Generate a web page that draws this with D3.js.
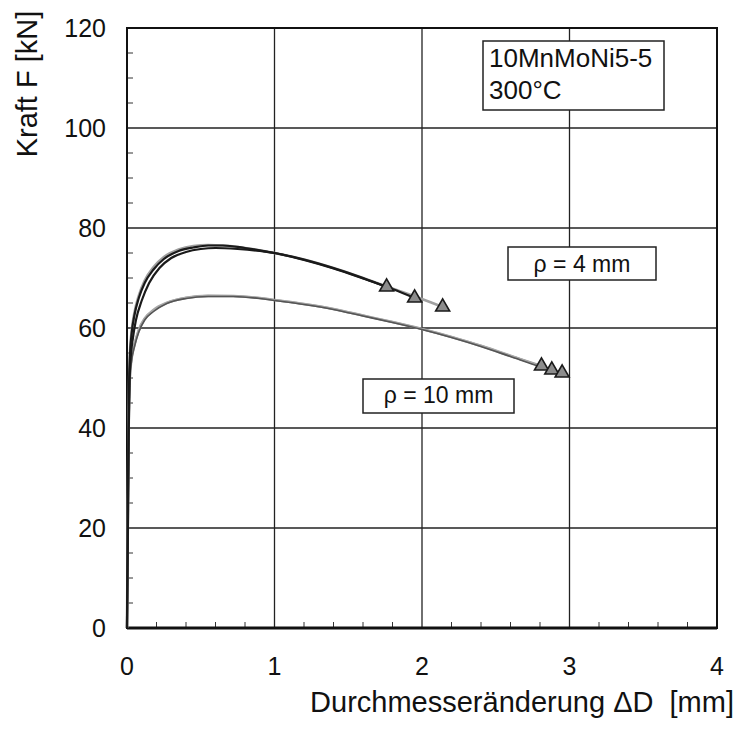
<!DOCTYPE html>
<html><head><meta charset="utf-8">
<script src="https://cdn.jsdelivr.net/npm/d3@7/dist/d3.min.js"></script>
<style>body{margin:0;background:#fff}svg{display:block;font-family:"Liberation Sans",Arial,Helvetica,sans-serif}text{white-space:pre}</style>
</head><body>
<svg id="c" width="739" height="729"></svg>
<script>
// ---- data ----
const xTicks = [0, 1, 2, 3, 4];
const yTicks = [0, 20, 40, 60, 80, 100, 120];
const xLabel = "Durchmesseränderung \u0394D  [mm]";
const yLabel = "Kraft F [kN]";
const infoLines = ["10MnMoNi5-5", "300°C"];
const label4 = "\u03C1 = 4 mm";
const label10 = "\u03C1 = 10 mm";

// rho = 4 mm curves (x = ΔD mm, y = F kN)
const r4a_x = [0, 0.005, 0.01, 0.015, 0.02, 0.03, 0.05, 0.08, 0.12, 0.18, 0.25, 0.35, 0.45, 0.55, 0.65, 0.8, 1.0, 1.2, 1.4, 1.6, 1.76];
const r4a_y = [0, 20, 40, 50, 54.5, 58.5, 62.5, 66, 69, 71.7, 73.8, 75.4, 76.1, 76.5, 76.5, 76, 75, 73.7, 72, 70, 68.2];
const r4b_x = [0, 0.006, 0.012, 0.018, 0.025, 0.04, 0.06, 0.1, 0.15, 0.22, 0.3, 0.4, 0.5, 0.6, 0.75, 1.0, 1.2, 1.4, 1.6, 1.8, 1.95];
const r4b_y = [0, 20, 40, 50, 54, 58, 61.5, 65.5, 69, 72, 74, 75.2, 75.8, 76, 75.8, 75, 73.6, 71.9, 69.9, 67.8, 66];
const r4c_x = [0, 0.005, 0.01, 0.015, 0.02, 0.03, 0.05, 0.08, 0.12, 0.18, 0.25, 0.35, 0.45, 0.55, 0.65, 0.8, 1.0, 1.2, 1.4, 1.6, 1.8, 2.0, 2.14];
const r4c_y = [0, 20, 40, 50, 55, 59, 63, 66.5, 69.5, 72.2, 74.2, 75.7, 76.4, 76.6, 76.5, 76, 75, 73.7, 72, 70, 67.9, 65.8, 64.2];
// rho = 10 mm curves
const r10a_x = [0, 0.006, 0.012, 0.02, 0.03, 0.05, 0.08, 0.12, 0.18, 0.27, 0.4, 0.55, 0.72, 0.9, 1.0, 1.2, 1.4, 1.6, 1.8, 2.0, 2.2, 2.4, 2.6, 2.81];
const r10a_y = [0, 20, 40, 50, 53.5, 56.5, 59.5, 61.8, 63.5, 65, 66, 66.4, 66.4, 66, 65.6, 64.8, 63.8, 62.5, 61.2, 59.8, 58.2, 56.4, 54.4, 52.4];
const r10b_x = [0, 0.006, 0.012, 0.02, 0.03, 0.05, 0.08, 0.12, 0.18, 0.27, 0.4, 0.55, 0.72, 0.9, 1.0, 1.2, 1.4, 1.6, 1.8, 2.0, 2.2, 2.4, 2.6, 2.8, 2.88];
const r10b_y = [0, 20, 40, 50, 53.8, 56.8, 59.8, 62, 63.7, 65.1, 66.1, 66.5, 66.4, 66, 65.6, 64.8, 63.8, 62.5, 61.2, 59.8, 58.2, 56.5, 54.5, 52.4, 51.6];
const r10c_x = [0, 0.006, 0.012, 0.02, 0.03, 0.05, 0.08, 0.12, 0.18, 0.27, 0.4, 0.55, 0.72, 0.9, 1.0, 1.2, 1.4, 1.6, 1.8, 2.0, 2.2, 2.4, 2.6, 2.8, 2.95];
const r10c_y = [0, 20, 40, 50, 53.2, 56.2, 59.2, 61.6, 63.3, 64.9, 65.9, 66.3, 66.3, 65.9, 65.5, 64.7, 63.7, 62.4, 61.1, 59.7, 58.1, 56.3, 54.3, 52.3, 51.0];
// failure points (triangles)
const fail_x = [1.76, 1.95, 2.14, 2.81, 2.88, 2.95];
const fail_y = [68.2, 66, 64.2, 52.4, 51.6, 51.0];

// ---- layout ----
const svg = d3.select("#c");
const L = 127, R = 717, T = 28, B = 628;
const x = d3.scaleLinear().domain([0, 4]).range([L, R]);
const y = d3.scaleLinear().domain([0, 120]).range([B, T]);

// grid
svg.append("g").selectAll("line").data(xTicks.slice(1, -1)).join("line")
  .attr("x1", d => x(d)).attr("x2", d => x(d)).attr("y1", T).attr("y2", B)
  .attr("stroke", "#222").attr("stroke-width", 1.3);
svg.append("g").selectAll("line").data(yTicks.slice(1, -1)).join("line")
  .attr("x1", L).attr("x2", R).attr("y1", d => y(d)).attr("y2", d => y(d))
  .attr("stroke", "#222").attr("stroke-width", 1.3);

// minor ticks (inward)
const xMinor = d3.range(0, 4.0001, 0.2).filter(v => Math.abs(v - Math.round(v)) > 1e-6);
const yMinor = d3.range(0, 120.0001, 5).filter(v => v % 20 !== 0);
svg.append("g").selectAll("line").data(xMinor).join("line")
  .attr("x1", d => x(d)).attr("x2", d => x(d)).attr("y1", B).attr("y2", B - 6)
  .attr("stroke", "#333").attr("stroke-width", 1);
svg.append("g").selectAll("line").data(yMinor).join("line")
  .attr("x1", L).attr("x2", L + 6).attr("y1", d => y(d)).attr("y2", d => y(d))
  .attr("stroke", "#333").attr("stroke-width", 1);

// frame
svg.append("rect").attr("x", L).attr("y", T).attr("width", R - L).attr("height", B - T)
  .attr("fill", "none").attr("stroke", "#111").attr("stroke-width", 2);
svg.append("line").attr("x1", L).attr("x2", R).attr("y1", B).attr("y2", B).attr("stroke", "#111").attr("stroke-width", 3);

// axes labels
svg.append("g").selectAll("text").data(yTicks).join("text")
  .attr("x", 106).attr("y", d => y(d)).attr("dy", "0.36em").attr("text-anchor", "end")
  .attr("font-size", 25).attr("fill", "#111").text(d => d);
svg.append("g").selectAll("text").data(xTicks).join("text")
  .attr("x", d => x(d)).attr("y", 675).attr("text-anchor", "middle")
  .attr("font-size", 25).attr("fill", "#111").text(d => d);
svg.append("text").attr("x", 734).attr("y", 712).attr("text-anchor", "end")
  .attr("font-size", 29).attr("fill", "#111").text(xLabel);
svg.append("text").attr("transform", "translate(37,84) rotate(-90)").attr("text-anchor", "middle")
  .attr("font-size", 29).attr("fill", "#111").text(yLabel);

// curves
const line = d3.line().x(d => x(d[0])).y(d => y(d[1])).curve(d3.curveMonotoneX);
const zip = (a, b) => a.map((v, i) => [v, b[i]]);
const curves = [
  {xs: r10a_x, ys: r10a_y, c: "#9a9a9a", w: 2.4},
  {xs: r10b_x, ys: r10b_y, c: "#a8a8a8", w: 2},
  {xs: r10c_x, ys: r10c_y, c: "#555", w: 1.6},
  {xs: r4c_x, ys: r4c_y, c: "#a0a0a0", w: 2.6},
  {xs: r4b_x, ys: r4b_y, c: "#1a1a1a", w: 2.2},
  {xs: r4a_x, ys: r4a_y, c: "#1a1a1a", w: 2.2}
];
svg.append("g").selectAll("path").data(curves).join("path")
  .attr("d", d => line(zip(d.xs, d.ys))).attr("fill", "none")
  .attr("stroke", d => d.c).attr("stroke-width", d => d.w).attr("stroke-linejoin", "round");

// triangles
const tri = d3.symbol().type(d3.symbolTriangle).size(85);
svg.append("g").selectAll("path").data(zip(fail_x, fail_y)).join("path")
  .attr("transform", d => `translate(${x(d[0])},${y(d[1])})`).attr("d", tri)
  .attr("fill", "#8c8c8c").attr("stroke", "#1a1a1a").attr("stroke-width", 1.6);

// info box
svg.append("rect").attr("x", 483).attr("y", 41).attr("width", 181).attr("height", 69)
  .attr("fill", "#fff").attr("stroke", "#222").attr("stroke-width", 1.5);
svg.append("g").selectAll("text").data(infoLines).join("text")
  .attr("x", 489).attr("y", (d, i) => 67 + i * 32).attr("font-size", 26).attr("fill", "#111").text(d => d);

// rho labels
function labelBox(cx, top, w, h, txt, base) {
  svg.append("rect").attr("x", cx - w / 2).attr("y", top).attr("width", w).attr("height", h)
    .attr("fill", "#fff").attr("stroke", "#222").attr("stroke-width", 1.5);
  svg.append("text").attr("x", cx).attr("y", base).attr("text-anchor", "middle")
    .attr("font-size", 23).attr("fill", "#111").text(txt);
}
labelBox(582, 247, 148, 33, label4, 272);
labelBox(438.5, 379, 151, 34, label10, 403);
</script>
</body></html>
